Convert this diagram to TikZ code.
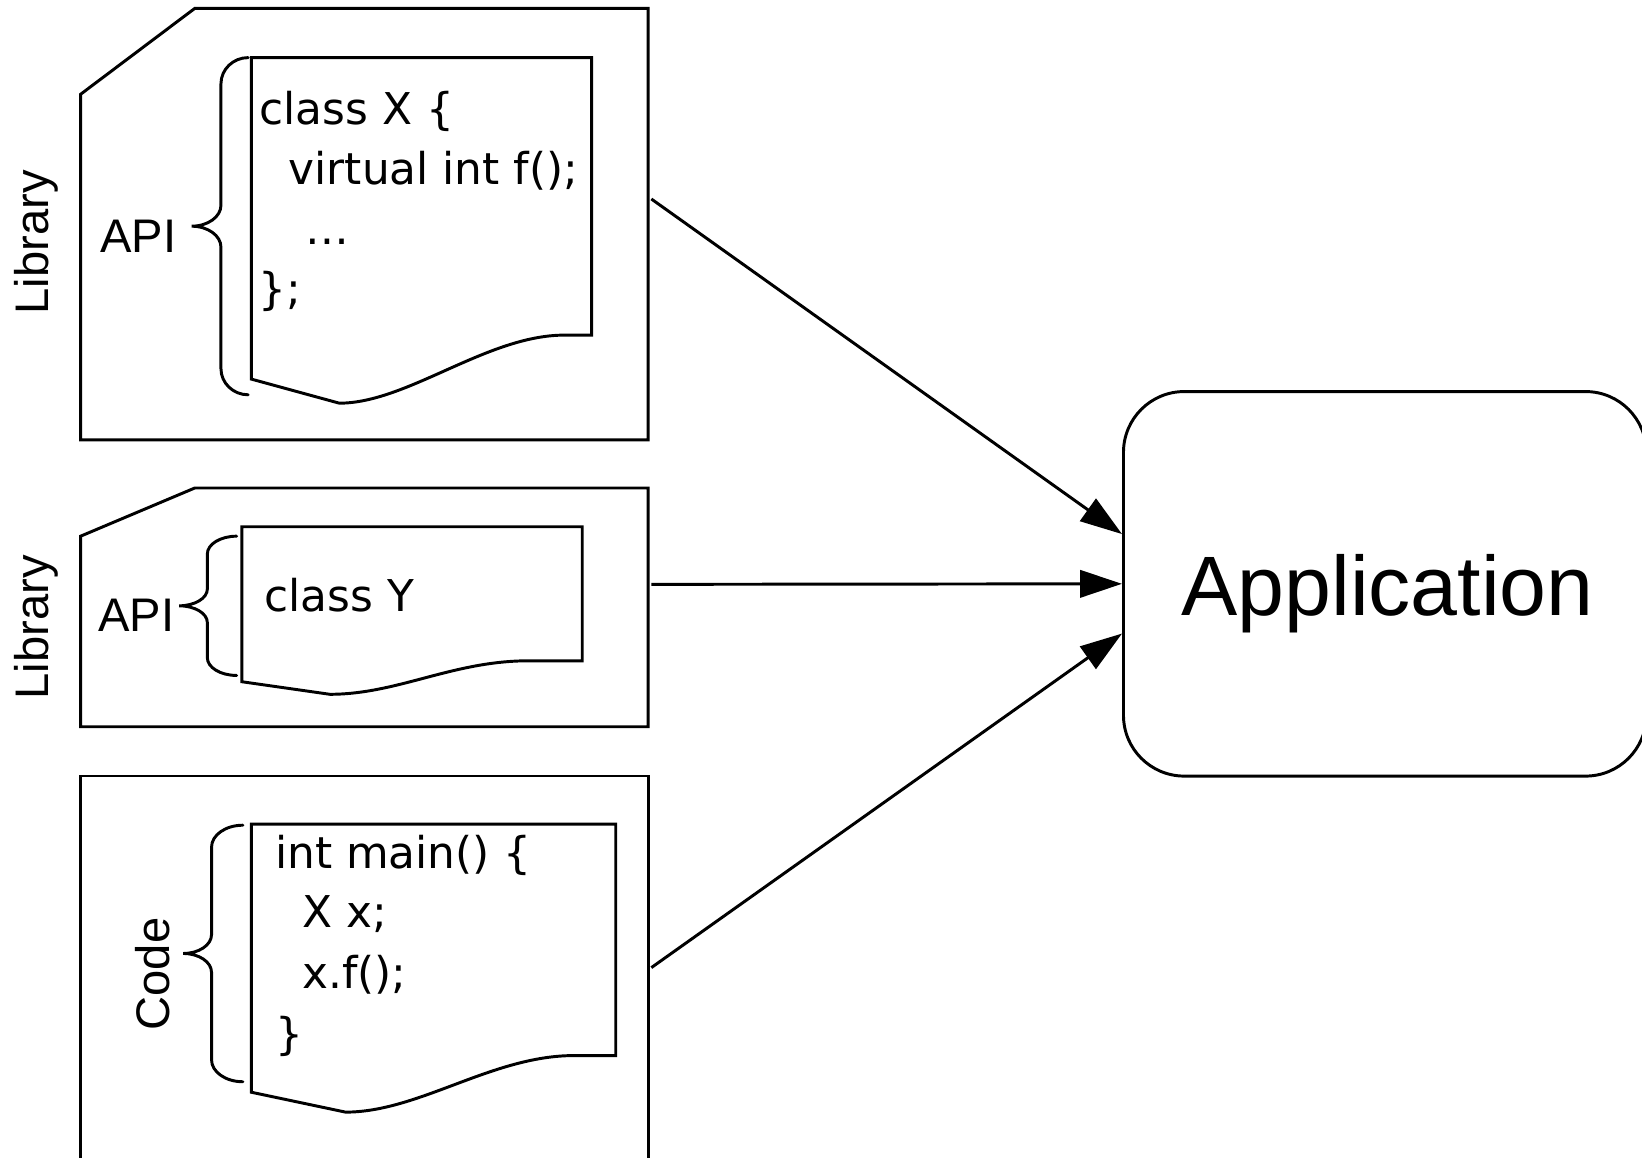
\documentclass[tikz,border=0pt]{standalone}
\usepackage{fontspec}
\usetikzlibrary{arrows.meta,calc}
\newfontfamily\labfont{Liberation Sans}
\newfontfamily\codefont{DejaVu Sans}

\tikzset{
  outline/.style={draw=black, line width=0.8pt, line join=miter},
  codeline/.style={anchor=base west, inner sep=0pt, font=\codefont\fontsize{11.9}{14}\selectfont},
  sidelabel/.style={inner sep=0pt, font=\labfont\fontsize{12.8}{15}\selectfont},
  link/.style={draw=black, line width=0.8pt, -{Triangle[length=4mm,width=2.6mm]}},
}

% curly brace: tip x, spine x, point x, top y, bottom y, end curl, middle curl
\newcommand{\drawbrace}[7]{%
  \draw[outline, line cap=round]
    (#1,#4) .. controls ({#1-0.552*(#1-#2)},#4) and (#2,{#4+0.448*#6}) .. (#2,{#4+#6})
    -- (#2,{(#4+#5)/2-#7})
    .. controls (#2,{(#4+#5)/2-0.448*#7}) and ({#3+0.552*(#2-#3)},{(#4+#5)/2}) .. (#3,{(#4+#5)/2})
    .. controls ({#3+0.552*(#2-#3)},{(#4+#5)/2}) and (#2,{(#4+#5)/2+0.448*#7}) .. (#2,{(#4+#5)/2+#7})
    -- (#2,{#5-#6})
    .. controls (#2,{#5-0.448*#6}) and ({#1-0.552*(#1-#2)},#5) .. (#1,#5);
}

\begin{document}
\begin{tikzpicture}[x=0.01cm, y=-0.01cm]
  \useasboundingbox (0,0) rectangle (1568,1105);
  \clip (0,0) rectangle (1568,1105);

  % library card with class X
  \draw[outline] (77,90) -- (186,8) -- (619,8) -- (619,420) -- (77,420) -- cycle;
  \draw[outline] (240,55) -- (565,55) -- (565,320) -- (539,320)
    .. controls (465,320) and (389,385) .. (324,385) -- (240,362) -- cycle;
  \drawbrace{237}{211}{183}{55}{377}{25}{20}
  \node[sidelabel, rotate=90, anchor=base] (lib1) at (46,231.5) {Library};
  \node[sidelabel, anchor=base west] (api1) at (95,241) {API};
  \node[codeline] (cx1) at (247,119) {class X \{};
  \node[codeline] (cx2) at (275,176) {virtual int f();};
  \node[codeline] (cx3) at (291,233) {…};
  \node[codeline] (cx4) at (246,291) {\};};

  % library card with class Y
  \draw[outline] (77,512) -- (186,466) -- (619,466) -- (619,694) -- (77,694) -- cycle;
  \draw[outline] (231,503) -- (556,503) -- (556,631) -- (505,631)
    .. controls (432,631) and (380,663) .. (315,663) -- (231,651) -- cycle;
  \drawbrace{226}{198}{171}{512}{645}{17}{16}
  \node[sidelabel, rotate=90, anchor=base] (lib2) at (46,599) {Library};
  \node[sidelabel, anchor=base west] (api2) at (93,603) {API};
  \node[codeline] (cy1) at (252,584) {class Y};

  % application code card
  \draw[outline] (77,1130) -- (77,741) -- (619,741) -- (619,1130);
  \draw[outline] (240,787) -- (588,787) -- (588,1008) -- (548,1008)
    .. controls (470,1008) and (400,1062) .. (330,1062) -- (240,1043) -- cycle;
  \drawbrace{232}{202}{175}{788}{1033}{21}{18}
  \node[sidelabel, rotate=90, anchor=base] (code) at (162,930) {Code};
  \node[codeline] (cm1) at (262,829) {int main() \{};
  \node[codeline] (cm2) at (288,886) {X x;};
  \node[codeline] (cm3) at (288,944) {x.f();};
  \node[codeline] (cm4) at (262,1002) {\}};

  % application
  \node[outline, rounded corners=0.58cm, minimum width=4.99cm, minimum height=3.67cm,
        inner sep=0pt] (app) at (1322.5,557.5) {};
  \node[inner sep=0pt, anchor=base, font=\labfont\fontsize{22.9}{27}\selectfont]
        (applabel) at (1325,588) {Application};

  % connectors
  \coordinate (src1) at (622,190);
  \coordinate (src2) at (622,558);
  \coordinate (src3) at (622,924);
  \coordinate (dst1) at ($(app.west)+(0,-47.5)$);
  \coordinate (dst3) at ($(app.west)+(0,47.5)$);
  \draw[link] (src1) -- (dst1);
  \draw[link] (src2) -- (app.west);
  \draw[link] (src3) -- (dst3);
\end{tikzpicture}
\end{document}
